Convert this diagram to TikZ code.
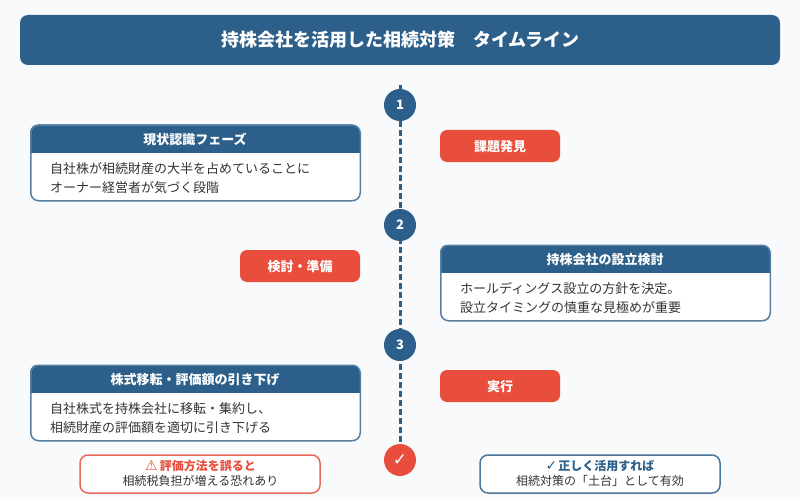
\documentclass[tikz,border=0pt]{standalone}
\usepackage{fontspec}
\setmainfont{Noto Sans CJK JP}
\newfontfamily\symfont{DejaVu Sans}
\usetikzlibrary{calc,backgrounds}
\definecolor{bgc}{HTML}{F8FAFC}
\definecolor{navy}{HTML}{2C5F8A}
\definecolor{redc}{HTML}{E94E3D}
\definecolor{textc}{HTML}{333333}
\newcommand{\fs}[1]{\fontsize{#1}{#1}\selectfont}
\tikzset{
  x=1pt,y=-1pt,
  titlebox/.style={fill=navy,rounded corners=8,minimum width=760,minimum height=50,inner sep=0,text=white,font=\fs{18}\bfseries},
  stepdot/.style={circle,fill=navy,minimum size=32,inner sep=0,text=white,font=\fs{13}\bfseries},
  enddot/.style={circle,fill=redc,minimum size=32,inner sep=0,text=white,font=\fs{17}\symfont},
  tag/.style={fill=redc,rounded corners=7,minimum width=120,minimum height=32,inner sep=0,text=white,font=\fs{13}\bfseries},
  tagtext/.style={text=white,font=\fs{13}\bfseries,inner sep=0},
  cardhead/.style={text=white,font=\fs{13}\bfseries,inner sep=0},
  cardbody/.style={text=textc,font=\fs{13},anchor=west,inner sep=0},
  cardline/.style={draw=navy!80!white,line width=1.5,rounded corners=8},
  notebox/.style={fill=white,line width=1.5,rounded corners=8,minimum width=240,minimum height=38,inner sep=0},
  notehead/.style={font=\fs{12}\bfseries,inner sep=0},
  notebody/.style={text=textc,font=\fs{12},inner sep=0},
  spine/.style={draw=navy,line width=3,dash pattern=on 6 off 3},
}
\newcommand{\card}[6]{% name, left, top, head, line1, line2
  \fill[white,rounded corners=8] ($(#2,#3)+(0,-0.5)$) rectangle ++(330,75.5);
  \begin{scope}
    \clip[rounded corners=8] ($(#2,#3)+(0,-0.5)$) rectangle ++(330,75.5);
    \fill[navy] ($(#2,#3)+(0,-0.5)$) rectangle ++(330,28.5);
  \end{scope}
  \node[cardline,minimum width=329.5,minimum height=75.5,inner sep=0,anchor=north west] (#1) at ($(#2,#3)+(0,-0.5)$) {};
  \node[cardhead] (#1h) at ($(#2,#3)+(165,14.5)$) {#4};
  \node[cardbody] (#1a) at ($(#2,#3)+(20,44)$) {#5};
  \node[cardbody] (#1b) at ($(#2,#3)+(20,63)$) {#6};
}
\begin{document}
\begin{tikzpicture}
\useasboundingbox (0,0) rectangle (800,500);
\node[titlebox] (title) at (400,40) {\hspace{1pt}持株会社を活用した相続対策　タイムライン};
\coordinate (top) at (400,85);
\node[stepdot] (s1) at (400,105) {1};
\node[stepdot] (s2) at (400,225) {2};
\node[stepdot] (s3) at (400,345) {3};
\node[enddot] (s4) at (400,460) {✓};
\begin{scope}[on background layer]
\fill[bgc] (0,0) rectangle (800,500);
\draw[spine] (top) -- (s4);
\end{scope}
\card{c1}{30}{125}{現状認識フェーズ}{自社株が相続財産の大半を占めていることに}{オーナー経営者が気づく段階}
\card{c2}{440}{245}{持株会社の設立検討}{ホールディングス設立の方針を決定。}{設立タイミングの慎重な見極めが重要}
\card{c3}{30}{365}{株式移転・評価額の引き下げ}{自社株式を持株会社に移転・集約し、}{相続財産の評価額を適切に引き下げる}
\node[tag] (t1) at (500,146) {};
\node[tagtext] (t1t) at (500,146.5) {課題発見};
\node[tag] (t2) at (300,266) {};
\node[tagtext] (t2t) at (300,266.5) {検討・準備};
\node[tag] (t3) at (500,386) {};
\node[tagtext] (t3t) at (500,386.5) {実行};
\node[notebox,draw=redc!85!white] (n1) at (200,474) {};
\node[notehead,text=redc] (n1h) at (200.5,465.5) {{\symfont\fs{14}⚠}\hspace{2pt}評価方法を誤ると};
\node[notebody] (n1b) at (200.5,480.5) {相続税負担が増える恐れあり};
\node[notebox,draw=navy!85!white] (n2) at (600,474) {};
\node[notehead,text=navy] (n2h) at (600,465.5) {{\symfont\fs{14}✓}\hspace{1pt}正しく活用すれば};
\node[notebody] (n2b) at (600,480.5) {相続対策の「土台」として有効};
\end{tikzpicture}
\end{document}
